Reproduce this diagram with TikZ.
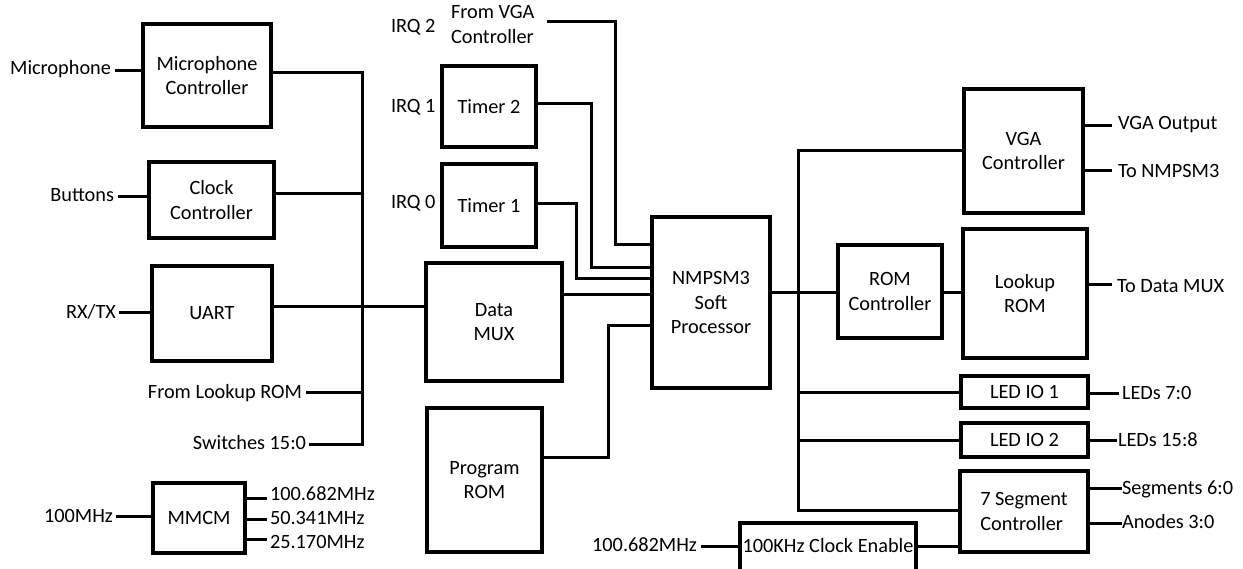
\documentclass[tikz,border=0pt]{standalone}
\usepackage{fontspec}
\setmainfont{Carlito}
\newcommand\dfont{\fontsize{20.3}{24.5}\selectfont}
\tikzset{
  box/.style={draw, line width=3.2pt, inner sep=0pt, outer sep=0pt, align=center, font=\dfont},
  lab/.style={inner sep=0pt, outer sep=0pt, font=\dfont},
  wire/.style={line width=3pt, line cap=rect},
}
\begin{document}
\begin{tikzpicture}[x=1pt,y=-1pt]
\useasboundingbox (0,0) rectangle (1243,568);
% ---------- boxes ----------
\node[box, minimum width=128, minimum height=103] (micc) at (207,75.5) {Microphone\\Controller};
\node[box, minimum width=125, minimum height=76] (clkc) at (211.5,200) {Clock\\Controller};
\node[box, minimum width=120, minimum height=95] (uart) at (212,313.5) {UART};
\node[box, minimum width=92, minimum height=70] (mmcm) at (199,518) {MMCM};
\node[box, minimum width=136, minimum height=118] (dmux) at (494,322) {Data\\MUX};
\node[box, minimum width=115, minimum height=144] (prom) at (484.5,480) {Program\\ROM};
\node[box, minimum width=94, minimum height=81] (tmr2) at (489,106.5) {Timer 2};
\node[box, minimum width=94, minimum height=83] (tmr1) at (489,205.5) {Timer 1};
\node[box, minimum width=118, minimum height=171] (cpu) at (711,302.5) {NMPSM3\\Soft\\Processor};
\node[box, minimum width=104, minimum height=93] (romc) at (890,291.5) {ROM\\Controller};
\node[box, minimum width=119, minimum height=124] (vga) at (1023.5,151) {VGA\\Controller};
\node[box, minimum width=124, minimum height=129] (lrom) at (1025,293.5) {Lookup\\ROM};
\node[box, minimum width=127, minimum height=32] (led1) at (1024.5,392) {LED IO 1};
\node[box, minimum width=127, minimum height=34] (led2) at (1024.5,440) {LED IO 2};
\node[box, minimum width=128, minimum height=81, align=left] (seg) at (1024,511.5) {7 Segment\\Controller};
\node[box, minimum width=176, minimum height=50] (clken) at (828,548) {};
\node[font=\dfont, inner sep=0pt] (clkent) at (828,546) {100KHz Clock Enable};
% ---------- labels ----------
\node[lab, anchor=east] (micl) at (111,69) {Microphone};
\node[lab, anchor=east] (btnl) at (114,195) {Buttons};
\node[lab, anchor=east] (rxl) at (116,312) {RX/TX};
\node[lab, anchor=east] (flk) at (302,393) {From Lookup ROM};
\node[lab, anchor=east] (swl) at (306,443) {Switches 15:0};
\node[lab, anchor=east] (clkin) at (113,516) {100MHz};
\node[lab, anchor=west] (o1) at (270,494) {100.682MHz};
\node[lab, anchor=west] (o2) at (270,518) {50.341MHz};
\node[lab, anchor=west] (o3) at (270,542) {25.170MHz};
\node[lab, anchor=west] (irq2) at (391,27) {IRQ 2};
\node[lab, anchor=west] (irq1) at (391,107) {IRQ 1};
\node[lab, anchor=west] (irq0) at (391,203) {IRQ 0};
\node[lab, anchor=north west, align=left, font=\fontsize{20.3}{25}\selectfont] (fvga) at (451,5) {From VGA\\Controller};
\node[lab, anchor=east] (c100) at (697,545) {100.682MHz};
\node[lab, anchor=west] (vgao) at (1118,125) {VGA Output};
\node[lab, anchor=west] (tonm) at (1118,171) {To NMPSM3};
\node[lab, anchor=west] (todm) at (1117,286) {To Data MUX};
\node[lab, anchor=west] (led7) at (1122,393) {LEDs 7:0};
\node[lab, anchor=west] (led15) at (1118,440) {LEDs 15:8};
\node[lab, anchor=west] (segl) at (1122,489) {Segments 6:0};
\node[lab, anchor=west] (anl) at (1122,522) {Anodes 3:0};
% ---------- coordinates ----------
\coordinate (lb1) at (362,72);
\coordinate (lb2) at (362,193);
\coordinate (lb3) at (362,306);
\coordinate (lb4) at (362,392);
\coordinate (lb5) at (362,444);
\coordinate (vgairq) at (548,21);
\coordinate (v1) at (615,21);
\coordinate (v2) at (615,244);
\coordinate (t2a) at (591,103);
\coordinate (t2b) at (591,267);
\coordinate (t1a) at (576,203);
\coordinate (t1b) at (576,278);
\coordinate (dm) at (600,294);
\coordinate (pr1) at (608,457);
\coordinate (pr2) at (608,325);
\coordinate (rb) at (798,292);
\coordinate (rbT) at (798,150);
\coordinate (rbB) at (798,510);
% ---------- wires: left ----------
\draw[wire] ([xshift=5pt]micl.east |- 0,70) -- (micc.west |- 0,70);
\draw[wire] ([xshift=5pt]btnl.east |- 0,196) -- (clkc.west |- 0,196);
\draw[wire] ([xshift=4pt]rxl.east |- 0,312) -- (uart.west |- 0,312);
\draw[wire] ([xshift=4pt]clkin.east |- 0,516) -- (mmcm.west |- 0,516);
\draw[wire] (mmcm.east |- 0,498) -- ([xshift=-5pt]o1.west |- 0,498);
\draw[wire] (mmcm.east |- 0,519) -- ([xshift=-5pt]o2.west |- 0,519);
\draw[wire] (mmcm.east |- 0,539) -- ([xshift=-5pt]o3.west |- 0,539);
\draw[wire, line join=miter] (micc.east |- lb1) -- (lb1) -- (lb5) -- ([xshift=4pt]swl.east |- lb5);
\draw[wire] (clkc.east |- lb2) -- (lb2);
\draw[wire] (uart.east |- lb3) -- (dmux.west |- lb3);
\draw[wire] ([xshift=5pt]flk.east |- lb4) -- (lb4);
% ---------- wires: middle ----------
\draw[wire, line join=miter] (vgairq) -- (v1) -- (v2) -- (cpu.west |- v2);
\draw[wire, line join=miter] (tmr2.east |- t2a) -- (t2a) -- (t2b) -- (cpu.west |- t2b);
\draw[wire, line join=miter] (tmr1.east |- t1a) -- (t1a) -- (t1b) -- (cpu.west |- t1b);
\draw[wire] (dmux.east |- dm) -- (cpu.west |- dm);
\draw[wire, line join=miter] (prom.east |- pr1) -- (pr1) -- (pr2) -- (cpu.west |- pr2);
% ---------- wires: right ----------
\draw[wire] (cpu.east |- rb) -- (romc.west |- rb);
\draw[wire] (romc.east |- rb) -- (lrom.west |- rb);
\draw[wire, line join=miter] (vga.west |- rbT) -- (rbT) -- (rbB) -- (seg.west |- rbB);
\draw[wire] (rbT |- led1.west) -- (led1.west);
\draw[wire] (rbT |- led2.west) -- (led2.west);
\draw[wire] ([xshift=5pt]c100.east |- 0,546) -- (clken.west |- 0,546);
\draw[wire] (clken.east |- 0,546) -- (seg.west |- 0,546);
\draw[wire] (vga.east |- 0,125) -- ([xshift=-8pt]vgao.west |- 0,125);
\draw[wire] (vga.east |- 0,170) -- ([xshift=-8pt]tonm.west |- 0,170);
\draw[wire] (lrom.east |- 0,284) -- ([xshift=-7pt]todm.west |- 0,284);
\draw[wire] (led1.east |- 0,393) -- ([xshift=-5pt]led7.west |- 0,393);
\draw[wire] (led2.east |- 0,440) -- ([xshift=-3pt]led15.west |- 0,440);
\draw[wire] (seg.east |- 0,488) -- ([xshift=-2pt]segl.west |- 0,488);
\draw[wire] (seg.east |- 0,523) -- ([xshift=-2pt]anl.west |- 0,523);
\end{tikzpicture}
\end{document}
